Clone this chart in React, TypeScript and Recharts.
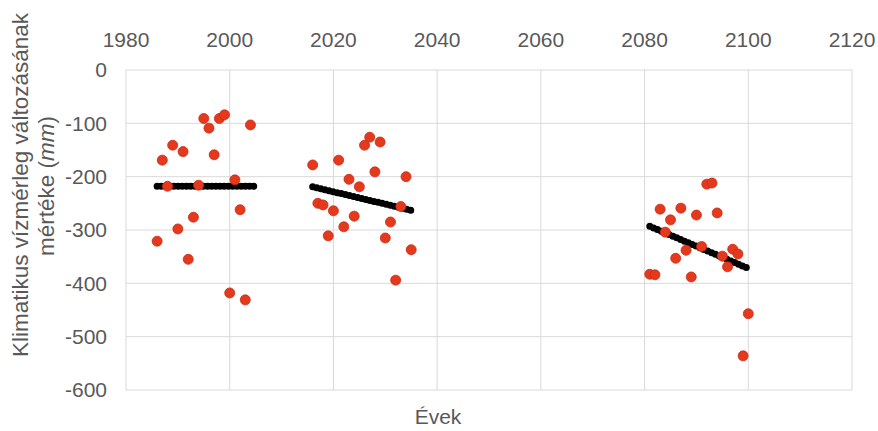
import React from 'react';
import { ScatterChart, Scatter, XAxis, YAxis, CartesianGrid } from 'recharts';

const RED = '#E5391E';
const GRID = '#D9D9D9';
const TEXT = '#595959';
const FONT = '"Liberation Sans", Arial, sans-serif';

// x ticks (years) and y ticks (mm)
const yearTicks = [1980, 2000, 2020, 2040, 2060, 2080, 2100, 2120];
const mmTicks = [0, -100, -200, -300, -400, -500, -600];

const years1 = [1986, 1987, 1988, 1989, 1990, 1991, 1992, 1993, 1994, 1995, 1996, 1997, 1998, 1999, 2000, 2001, 2002, 2003, 2004];
const vals1 = [-321, -169, -218, -141, -298, -153, -355, -276, -216, -91, -109, -159, -91, -84, -418, -206, -262, -431, -103];

const years2 = [2016, 2017, 2018, 2019, 2020, 2021, 2022, 2023, 2024, 2025, 2026, 2027, 2028, 2029, 2030, 2031, 2032, 2033, 2034, 2035];
const vals2 = [-178, -250, -253, -311, -264, -169, -294, -205, -274, -219, -141, -126, -191, -135, -315, -285, -394, -256, -200, -337];

const years3 = [2081, 2082, 2083, 2084, 2085, 2086, 2087, 2088, 2089, 2090, 2091, 2092, 2093, 2094, 2095, 2096, 2097, 2098, 2099, 2100];
const vals3 = [-383, -384, -261, -304, -281, -353, -259, -338, -388, -272, -331, -214, -212, -268, -349, -369, -336, -345, -536, -457];

// trend lines: start and end points of each period
const trend1 = [{ x: 1986, y: -218 }, { x: 2005, y: -218 }];
const trend2 = [{ x: 2016, y: -219 }, { x: 2035, y: -263 }];
const trend3 = [{ x: 2081, y: -293 }, { x: 2100, y: -372 }];

const zip = (xs: number[], ys: number[]) => xs.map((x, i) => ({ x, y: ys[i] }));
const points = [...zip(years1, vals1), ...zip(years2, vals2), ...zip(years3, vals3)];

const RedDot = (p: any) => (
  <circle cx={p.cx} cy={p.cy} r={5} fill={RED} stroke="#CC2A14" strokeWidth={0.8} />
);
const NoDot = () => <g />;

const trendLine = {
  stroke: '#000',
  strokeWidth: 7,
  strokeDasharray: '0 4.2',
  strokeLinecap: 'round',
};

const Titles = () => (
  <g fontFamily={FONT} fill={TEXT}>
    <text transform="translate(20,185) rotate(-90)" textAnchor="middle" dominantBaseline="central" fontSize={22.5}>
      Klimatikus vízmérleg változásának
    </text>
    <text transform="translate(46,186) rotate(-90)" textAnchor="middle" dominantBaseline="central" fontSize={22.5}>
      mértéke (<tspan fontStyle="italic">mm</tspan>)
    </text>
    <text x={438} y={424} textAnchor="middle" fontSize={21}>Évek</text>
  </g>
);

export default function App() {
  return (
    <div style={{ position: 'absolute', left: 0, top: 0, background: '#fff' }}>
      <ScatterChart width={878} height={431} margin={{ top: 0, right: 26, bottom: 41, left: 0 }}>
        <CartesianGrid stroke={GRID} />
        <XAxis
          dataKey="x"
          type="number"
          orientation="top"
          domain={[1980, 2120]}
          ticks={yearTicks}
          height={70}
          axisLine={false}
          tickLine={false}
          tickSize={0}
          tickMargin={23}
          tick={{ fill: TEXT, fontSize: 21, fontFamily: FONT }}
        />
        <YAxis
          dataKey="y"
          type="number"
          domain={[-600, 0]}
          ticks={mmTicks}
          width={126}
          axisLine={false}
          tickLine={false}
          tickSize={0}
          tickMargin={19}
          tick={{ fill: TEXT, fontSize: 21, fontFamily: FONT }}
          label={{ content: Titles }}
        />
        <Scatter data={trend1} line={trendLine} shape={NoDot} isAnimationActive={false} />
        <Scatter data={trend2} line={trendLine} shape={NoDot} isAnimationActive={false} />
        <Scatter data={trend3} line={trendLine} shape={NoDot} isAnimationActive={false} />
        <Scatter data={points} shape={RedDot} isAnimationActive={false} />
      </ScatterChart>
    </div>
  );
}
